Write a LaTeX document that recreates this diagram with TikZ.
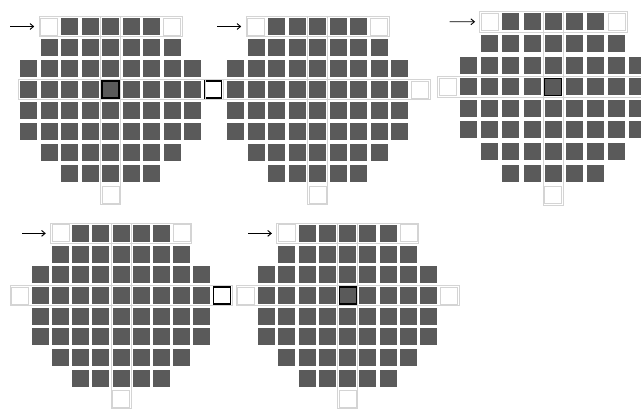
\documentclass[tikz,border=0pt]{standalone}
\usetikzlibrary{positioning, arrows.meta}

\definecolor{diegray}{HTML}{5A5A5A}
\definecolor{track}{HTML}{D4D4D4}

\newcommand{\pitchx}{20.5}
\newcommand{\pitchy}{21}
\newcommand{\halfc}{8.5}

% one wafer map: #1 name prefix, #2/#3 first/last column of the scanned row
\newcommand{\diegrid}[3]{%
    % scan tracks: top row, centre column, middle row
    \draw[track] (\pitchx-1.5,-1.5) rectangle (7*\pitchx+17+1.5,17+1.5);
    \draw[track] (4*\pitchx-1.5,-1.5) rectangle (4*\pitchx+17+1.5,8*\pitchy+17+1.5);
    \draw[track] (#2*\pitchx-1.5,3*\pitchy-1.5) rectangle (#3*\pitchx+17+1.5,3*\pitchy+17+1.5);
    % top row with empty corners
    \node[emptycell] (#1-0-1) at (\pitchx+\halfc,\halfc) {};
    \foreach \c in {2,...,6}
        \node[diecell] (#1-0-\c) at (\c*\pitchx+\halfc,\halfc) {};
    \node[emptycell] (#1-0-7) at (7*\pitchx+\halfc,\halfc) {};
    % remaining rows
    \foreach \r/\a/\b in {1/1/7,2/0/8,3/0/8,4/0/8,5/0/8,6/1/7,7/2/6}
        \foreach \c in {\a,...,\b}
            \node[diecell] (#1-\r-\c) at (\c*\pitchx+\halfc,\r*\pitchy+\halfc) {};
    % empty site below the centre column
    \node[emptycell] (#1-8-4) at (4*\pitchx+\halfc,8*\pitchy+\halfc) {};
    % entry arrow
    \coordinate (#1-in) at (-10,\halfc);
    \draw[feed] (#1-in) -- (#1-0-1);
}

\begin{document}
\begin{tikzpicture}[x={(0.03cm,0)}, y={(0,-0.03cm)},
    diecell/.style={fill=diegray, minimum width=0.51cm, minimum height=0.51cm, inner sep=0pt},
    emptycell/.style={draw=track, fill=white, line width=0.7pt, minimum width=0.51cm, minimum height=0.51cm, inner sep=0pt},
    marked/.style={draw=black, line width=1pt},
    track/.style={draw=track, line width=0.6pt},
    feed/.style={-{Straight Barb[length=3pt,width=5pt]}, line width=0.8pt, shorten >=5pt}]

\useasboundingbox (0,0) rectangle (641,409);

% Top left
\begin{scope}[shift={(20,18)}]
    \diegrid{p1}{0}{9}
    \node[diecell, marked] (p1-hit) at (p1-3-4) {};
    \node[emptycell, marked] (p1-3-9) at (9*\pitchx+\halfc,3*\pitchy+\halfc) {};
\end{scope}

% Top middle
\begin{scope}[shift={(227,18)}]
    \diegrid{p2}{-1}{9}
    \node[emptycell] (p2-3-9) at (9*\pitchx+\halfc,3*\pitchy+\halfc) {};
\end{scope}

% Top right
\begin{scope}[shift={(460,13)}, scale=1.03]
    \diegrid{p3}{-1}{9}
    \node[diecell, marked] (p3-hit) at (p3-3-4) {};
    \node[emptycell] (p3-3-0) at (-\pitchx+\halfc,3*\pitchy+\halfc) {};
\end{scope}

% Bottom left
\begin{scope}[shift={(32,225)}, xscale=0.985, yscale=0.985]
    \diegrid{p4}{-1}{9}
    \node[emptycell] (p4-3-0) at (-\pitchx+\halfc,3*\pitchy+\halfc) {};
    \node[emptycell, marked] (p4-3-9) at (9*\pitchx+\halfc,3*\pitchy+\halfc) {};
\end{scope}

% Bottom middle
\begin{scope}[shift={(258,225)}, xscale=0.99, yscale=0.985]
    \diegrid{p5}{-1}{9}
    \node[diecell, marked] (p5-hit) at (p5-3-4) {};
    \node[emptycell] (p5-3-0) at (-\pitchx+\halfc,3*\pitchy+\halfc) {};
    \node[emptycell] (p5-3-9) at (9*\pitchx+\halfc,3*\pitchy+\halfc) {};
\end{scope}

\end{tikzpicture}
\end{document}
